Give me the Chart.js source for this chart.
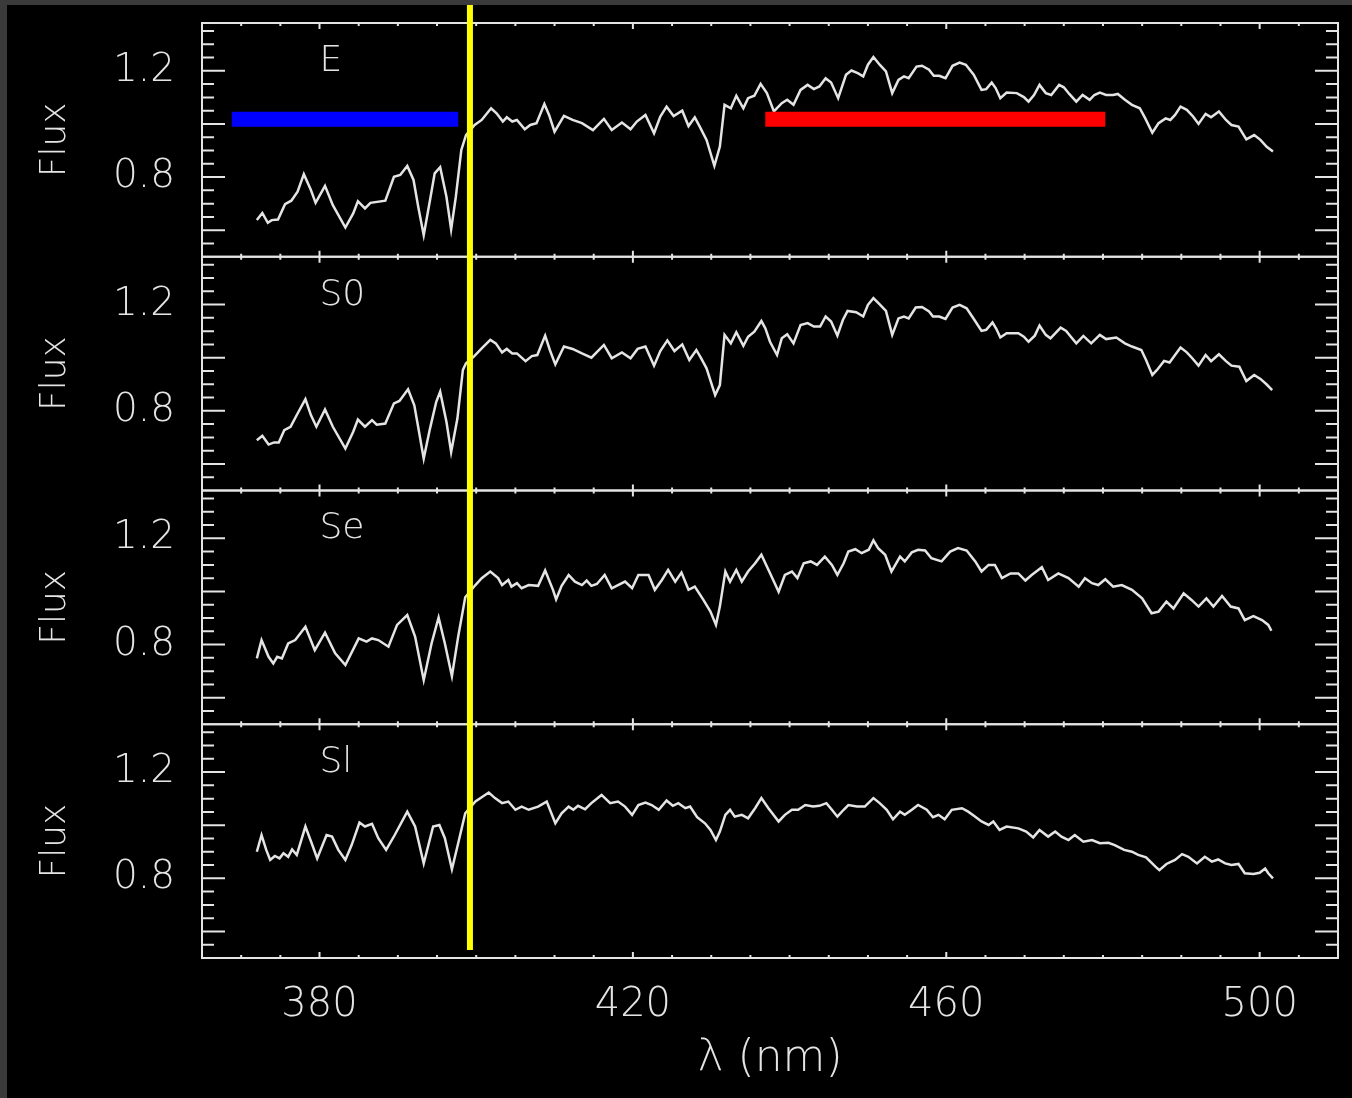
<!DOCTYPE html>
<html>
<head>
<meta charset="utf-8">
<title>Galaxy spectra</title>
<script src="https://cdn.jsdelivr.net/npm/chart.js@4.4.1/dist/chart.umd.min.js"></script>
<style>
  html, body { margin: 0; padding: 0; background: #3a3a3a; }
  body { width: 1352px; height: 1098px; overflow: hidden; position: relative; }
  #spectra { position: absolute; left: 7px; top: 5px; width: 1345px; height: 1093px; background: #000; }
</style>
</head>
<body>
<canvas id="spectra" width="1345" height="1093"></canvas>
<script>
// spectra, [wavelength nm, normalised flux]
const specE = [
  [372.0,0.638],[372.7,0.665],[373.4,0.628],[373.9,0.638],[374.7,0.640],[375.6,0.698],[376.4,0.711],[377.2,0.745],
  [378.0,0.811],[378.9,0.751],[379.5,0.703],[380.7,0.767],[381.7,0.694],[383.3,0.610],[384.3,0.663],[384.9,0.709],
  [385.8,0.682],[386.5,0.703],[388.4,0.711],[389.5,0.801],[390.3,0.808],[391.2,0.842],[392.0,0.789],[392.6,0.688],
  [393.3,0.581],[394.1,0.713],[394.7,0.814],[395.4,0.837],[396.2,0.726],[396.8,0.603],[397.4,0.726],[398.1,0.902],
  [398.7,0.958],[399.8,0.996],[400.7,1.015],[401.9,1.059],[402.6,1.040],[403.4,1.009],[403.9,1.025],[404.6,1.009],
  [405.2,1.015],[406.2,0.980],[406.9,0.996],[407.7,1.003],[408.7,1.075],[409.3,1.034],[410.0,0.971],[411.2,1.030],
  [412.3,1.015],[413.5,1.003],[414.9,0.977],[416.3,1.019],[417.3,0.977],[418.6,1.005],[419.7,0.980],[420.5,1.009],
  [421.6,1.034],[422.7,0.965],[423.5,1.028],[424.3,1.065],[425.2,1.030],[426.3,1.050],[427.1,0.992],[427.9,1.025],
  [428.5,0.992],[429.4,0.940],[430.4,0.842],[431.1,0.915],[431.7,1.072],[432.5,1.059],[433.2,1.106],[434.1,1.059],
  [434.7,1.097],[435.5,1.106],[436.3,1.151],[437.1,1.116],[438.0,1.047],[439.0,1.078],[439.7,1.091],[440.5,1.072],
  [441.4,1.128],[442.3,1.147],[443.1,1.131],[443.8,1.141],[444.6,1.172],[445.3,1.156],[446.2,1.097],[447.2,1.185],
  [447.9,1.201],[448.7,1.191],[449.4,1.179],[450.0,1.223],[450.7,1.252],[451.5,1.223],[452.3,1.198],[453.1,1.116],
  [453.9,1.166],[454.6,1.179],[455.2,1.172],[456.2,1.216],[456.9,1.219],[457.8,1.204],[458.4,1.181],[459.1,1.181],
  [459.9,1.172],[460.8,1.219],[461.7,1.231],[462.5,1.223],[463.5,1.185],[464.5,1.128],[465.1,1.131],[465.8,1.156],
  [466.3,1.135],[466.9,1.097],[467.7,1.118],[469.0,1.116],[469.9,1.101],[470.5,1.084],[471.2,1.109],[471.9,1.147],
  [472.7,1.116],[473.4,1.109],[474.4,1.147],[475.0,1.138],[475.7,1.113],[476.6,1.084],[477.4,1.109],[478.3,1.091],
  [478.9,1.109],[479.6,1.118],[480.4,1.109],[481.3,1.109],[481.9,1.113],[482.8,1.091],[483.7,1.072],[484.7,1.059],
  [485.4,1.021],[486.3,0.967],[487.1,1.003],[488.0,1.021],[488.6,1.015],[489.2,1.034],[489.9,1.065],[490.7,1.053],
  [491.5,1.028],[492.2,1.000],[493.1,1.038],[493.8,1.025],[494.8,1.047],[495.7,1.015],[496.4,0.996],[497.3,0.990],
  [498.3,0.942],[499.3,0.958],[500.1,0.940],[500.9,0.914],[501.7,0.896]
];
const specS0 = [
  [372.0,0.689],[372.7,0.706],[373.5,0.673],[374.2,0.681],[374.8,0.681],[375.5,0.727],[376.3,0.740],[377.2,0.790],
  [378.2,0.844],[378.9,0.784],[379.6,0.740],[380.7,0.805],[381.7,0.740],[383.3,0.658],[384.3,0.721],[384.9,0.767],
  [385.8,0.740],[386.7,0.765],[387.3,0.748],[388.4,0.752],[389.5,0.828],[390.2,0.837],[391.3,0.881],[392.1,0.821],
  [392.7,0.721],[393.3,0.620],[394.1,0.733],[394.9,0.834],[395.4,0.872],[396.2,0.759],[396.8,0.645],[397.6,0.771],
  [398.3,0.954],[398.7,0.979],[399.7,1.004],[400.7,1.035],[401.8,1.067],[402.5,1.054],[403.3,1.020],[403.9,1.033],
  [404.6,1.016],[405.2,1.016],[406.3,0.987],[407.1,1.006],[407.8,1.010],[408.8,1.083],[409.4,1.029],[410.1,0.975],
  [411.2,1.042],[412.3,1.033],[413.5,1.016],[414.7,1.000],[416.3,1.048],[417.3,0.998],[418.6,1.020],[419.7,0.998],
  [420.6,1.033],[421.6,1.042],[422.7,0.970],[423.5,1.025],[424.4,1.065],[425.3,1.025],[426.3,1.050],[427.2,0.991],
  [428.1,1.029],[428.7,0.998],[429.4,0.960],[430.5,0.859],[431.1,0.897],[431.7,1.086],[432.5,1.054],[433.2,1.096],
  [434.1,1.045],[434.7,1.079],[435.5,1.098],[436.4,1.138],[436.9,1.111],[437.5,1.060],[438.4,1.010],[439.0,1.073],
  [439.7,1.088],[440.5,1.054],[441.4,1.123],[442.3,1.130],[443.1,1.117],[443.9,1.117],[444.6,1.155],[445.3,1.136],
  [446.1,1.083],[446.8,1.142],[447.4,1.176],[448.5,1.171],[449.4,1.155],[450.0,1.199],[450.7,1.224],[451.5,1.201],
  [452.3,1.176],[453.1,1.086],[453.9,1.148],[454.6,1.155],[455.2,1.148],[456.1,1.189],[456.9,1.191],[457.8,1.174],
  [458.3,1.155],[459.1,1.155],[459.9,1.146],[460.8,1.189],[461.7,1.199],[462.6,1.186],[463.6,1.142],[464.5,1.101],
  [465.1,1.105],[465.9,1.133],[466.4,1.108],[466.9,1.076],[467.7,1.092],[469.2,1.092],[469.9,1.079],[470.5,1.060],
  [471.3,1.083],[471.9,1.121],[472.7,1.086],[473.3,1.073],[474.6,1.113],[475.3,1.101],[475.9,1.079],[476.6,1.054],
  [477.5,1.082],[478.5,1.054],[479.6,1.086],[480.4,1.070],[481.7,1.076],[482.8,1.054],[483.7,1.042],[484.9,1.029],
  [485.5,0.991],[486.3,0.935],[486.9,0.954],[487.8,0.988],[488.5,0.982],[489.2,1.010],[489.9,1.038],[490.7,1.020],
  [491.4,0.998],[492.2,0.970],[493.1,1.010],[493.8,0.987],[494.8,1.013],[495.7,0.987],[496.4,0.970],[497.4,0.966],
  [498.3,0.912],[499.3,0.935],[500.1,0.920],[500.9,0.899],[501.6,0.878]
];
const specSe = [
  [372.0,0.748],[372.6,0.817],[373.5,0.754],[374.1,0.729],[374.6,0.754],[375.2,0.748],[376.0,0.804],[376.9,0.817],
  [378.2,0.867],[379.4,0.779],[380.7,0.845],[382.0,0.767],[383.3,0.723],[385.0,0.823],[386.0,0.811],[386.7,0.823],
  [387.5,0.817],[388.8,0.792],[389.9,0.874],[391.2,0.911],[392.2,0.830],[393.3,0.666],[394.3,0.804],[395.2,0.902],
  [396.0,0.804],[396.9,0.681],[397.7,0.830],[398.6,0.978],[399.9,1.024],[400.7,1.050],[401.8,1.075],[402.8,1.050],
  [403.3,1.024],[404.1,1.043],[404.5,1.018],[405.2,1.031],[405.8,1.012],[406.7,1.024],[407.9,1.021],[408.8,1.079],
  [409.8,1.006],[410.2,0.970],[410.9,1.021],[411.8,1.062],[412.6,1.037],[413.5,1.024],[414.1,1.041],[414.7,1.021],
  [415.4,1.028],[416.4,1.062],[417.3,1.012],[418.1,1.024],[419.0,1.037],[419.9,1.012],[420.7,1.062],[422.0,1.062],
  [422.8,1.006],[423.7,1.043],[424.5,1.081],[425.4,1.037],[426.2,1.071],[427.1,1.006],[427.9,1.018],[429.0,0.968],
  [429.9,0.924],[430.6,0.874],[431.1,0.943],[431.8,1.075],[432.4,1.037],[433.2,1.081],[433.9,1.037],[434.7,1.075],
  [435.6,1.106],[436.4,1.138],[437.7,1.056],[438.6,0.999],[439.4,1.062],[440.3,1.075],[441.0,1.050],[441.8,1.106],
  [442.7,1.113],[443.5,1.100],[444.5,1.131],[445.4,1.100],[446.1,1.062],[446.9,1.106],[447.5,1.150],[448.4,1.159],
  [449.2,1.144],[450.1,1.157],[450.7,1.192],[451.3,1.163],[452.2,1.138],[453.0,1.075],[454.1,1.131],[454.7,1.113],
  [455.6,1.147],[456.4,1.157],[457.3,1.154],[458.1,1.125],[459.4,1.113],[460.5,1.150],[461.5,1.163],[462.6,1.154],
  [463.7,1.113],[464.5,1.075],[465.4,1.100],[466.2,1.100],[467.1,1.050],[468.2,1.068],[469.2,1.068],[470.1,1.041],
  [470.9,1.062],[472.2,1.091],[473.0,1.043],[474.3,1.068],[475.6,1.050],[476.9,1.018],[477.7,1.050],[478.6,1.031],
  [479.4,1.024],[480.3,1.046],[481.3,1.018],[482.4,1.024],[483.7,1.006],[485.0,0.974],[486.2,0.918],[487.1,0.924],
  [488.1,0.962],[489.0,0.936],[490.3,0.993],[491.3,0.968],[492.2,0.943],[493.2,0.974],[494.1,0.943],[495.2,0.983],
  [496.3,0.943],[497.3,0.936],[498.1,0.892],[499.2,0.907],[500.3,0.892],[501.1,0.874],[501.5,0.852]
];
const specSl = [
  [372.0,0.900],[372.6,0.963],[373.2,0.907],[373.7,0.869],[374.3,0.884],[374.9,0.875],[375.4,0.894],[376.0,0.881],
  [376.5,0.909],[377.1,0.888],[378.2,0.995],[379.0,0.932],[379.7,0.875],[380.9,0.963],[381.6,0.957],[382.4,0.907],
  [383.3,0.869],[384.1,0.925],[385.1,1.010],[385.8,0.995],[386.7,1.005],[387.5,0.951],[388.5,0.907],[389.6,0.963],
  [391.2,1.051],[392.2,0.995],[393.3,0.856],[394.5,0.995],[395.3,1.001],[396.0,0.951],[396.9,0.834],[397.7,0.932],
  [398.6,1.045],[399.9,1.089],[400.7,1.105],[401.6,1.123],[402.4,1.102],[403.3,1.083],[404.1,1.089],[405.0,1.058],
  [405.8,1.070],[406.7,1.058],[407.9,1.070],[409.0,1.089],[410.1,1.007],[410.9,1.045],[411.8,1.070],[412.4,1.058],
  [413.0,1.073],[413.9,1.060],[414.7,1.083],[416.0,1.114],[417.1,1.083],[418.1,1.089],[419.0,1.070],[419.9,1.039],
  [420.7,1.076],[421.6,1.085],[422.4,1.076],[423.3,1.058],[424.3,1.093],[425.1,1.073],[425.8,1.083],[426.7,1.064],
  [427.3,1.070],[428.2,1.030],[429.2,1.007],[429.9,0.982],[430.6,0.944],[431.1,0.976],[431.8,1.039],[432.4,1.058],
  [433.0,1.032],[433.9,1.039],[434.7,1.026],[435.6,1.064],[436.4,1.102],[437.3,1.064],[438.6,1.014],[439.4,1.039],
  [440.3,1.058],[441.1,1.058],[442.0,1.076],[443.0,1.070],[443.8,1.073],[444.7,1.083],[445.4,1.058],[446.1,1.032],
  [446.9,1.058],[447.5,1.076],[448.6,1.070],[449.6,1.070],[450.7,1.102],[451.5,1.083],[452.4,1.058],[453.2,1.022],
  [454.1,1.051],[454.7,1.039],[455.6,1.058],[456.4,1.076],[457.5,1.058],[458.3,1.030],[459.0,1.039],[459.8,1.022],
  [460.7,1.058],[462.0,1.064],[462.8,1.051],[463.7,1.032],[464.5,1.014],[465.4,1.001],[466.0,1.014],[466.8,0.982],
  [467.7,0.995],[469.2,0.988],[470.2,0.976],[471.1,0.954],[471.9,0.982],[473.0,0.957],[473.9,0.976],[474.7,0.957],
  [475.6,0.944],[476.4,0.963],[477.5,0.938],[478.6,0.944],[479.6,0.932],[480.7,0.934],[481.5,0.925],[482.7,0.907],
  [483.7,0.900],[484.5,0.888],[485.5,0.879],[486.7,0.844],[487.2,0.831],[488.1,0.854],[489.2,0.869],[490.1,0.891],
  [490.9,0.881],[492.0,0.856],[493.0,0.881],[493.9,0.863],[494.7,0.871],[495.6,0.856],[496.4,0.850],[497.3,0.854],
  [498.1,0.819],[499.2,0.816],[500.0,0.821],[500.7,0.837],[501.1,0.819],[501.7,0.800]
];

const panelNames = ['E', 'S0', 'Se', 'Sl'];
const panelAxes = ['yE', 'yS0', 'ySe', 'ySl'];
const panelSpectra = [specE, specS0, specSe, specSl];

const xRange = [365, 510];
const xTickLabels = [380, 420, 460, 500];
const yRange = [0.5, 1.38];
const yTickLabels = [0.8, 1.2];

// marker bands in the E panel and the break line
const blueBand = [368.8, 397.7];
const redBand = [436.9, 480.3];
const bandFlux = 1.018;
const breakWave = 399.2;
const breakSpan = [0.53, 4.2]; // on the Sl axis: from near its floor up past the top panel
const labelAt = [380, 1.2];

const INK = '#e4e4e4';
const FONT = 'DejaVu Sans';

// box, inward ticks on every side of each panel
const panelFrames = {
  id: 'panelFrames',
  beforeDatasetsDraw(chart) {
    const { ctx, chartArea: area, scales } = chart;
    const xs = scales.x;
    ctx.save();
    ctx.strokeStyle = INK;
    ctx.lineWidth = 2;
    panelAxes.forEach(id => {
      const ys = scales[id];
      ctx.strokeRect(area.left, ys.top, area.right - area.left, ys.bottom - ys.top);
      ctx.beginPath();
      for (let k = 11; k <= 27; k++) {
        const py = ys.getPixelForValue(k * 0.05);
        const len = k % 4 === 0 ? 23 : 12;
        ctx.moveTo(area.left, py); ctx.lineTo(area.left + len, py);
        ctx.moveTo(area.right, py); ctx.lineTo(area.right - len, py);
      }
      for (let v = 370; v < 510; v += 5) {
        const px = xs.getPixelForValue(v);
        const len = (v - 380) % 40 === 0 ? 6 : 3;
        ctx.moveTo(px, ys.top); ctx.lineTo(px, ys.top + len);
        ctx.moveTo(px, ys.bottom); ctx.lineTo(px, ys.bottom - len);
      }
      ctx.stroke();
    });
    ctx.restore();
  },
  afterDatasetsDraw(chart) {
    const { ctx, scales } = chart;
    ctx.save();
    ctx.fillStyle = INK;
    ctx.font = `200 36px "${FONT}"`;
    ctx.textAlign = 'left';
    ctx.textBaseline = 'alphabetic';
    panelNames.forEach((name, i) => {
      ctx.fillText(name, scales.x.getPixelForValue(labelAt[0]), scales[panelAxes[i]].getPixelForValue(labelAt[1]));
    });
    ctx.restore();
  }
};

function panelAxis(weight) {
  return {
    type: 'linear',
    position: 'left',
    stack: 'panels',
    stackWeight: 1,
    weight: weight,
    min: yRange[0],
    max: yRange[1],
    grid: { display: false },
    border: { display: false },
    afterBuildTicks: s => { s.ticks = yTickLabels.map(v => ({ value: v })); },
    // fixed gutter; labels sit well inside the panel so no edge padding is needed
    afterFit: s => { s.width = 195; s.paddingTop = 0; s.paddingBottom = 0; },
    ticks: { color: INK, padding: 19, font: { family: FONT, size: 39, weight: 200 } },
    title: { display: true, text: 'Flux', color: INK, padding: { top: 27, bottom: 0 }, font: { family: FONT, size: 36, weight: 200 } }
  };
}

function trace(data, axis) {
  return { data: data, yAxisID: axis, borderColor: INK, borderWidth: 2.5, pointRadius: 0, tension: 0, fill: false };
}

const datasets = [
  { data: [[breakWave, breakSpan[0]], [breakWave, breakSpan[1]]], yAxisID: 'ySl', borderColor: '#ffff00',
    borderWidth: 6, pointRadius: 0, clip: false },
  { data: [[blueBand[0], bandFlux], [blueBand[1], bandFlux]], yAxisID: 'yE', borderColor: '#0000ff',
    borderWidth: 15, borderCapStyle: 'butt', pointRadius: 0 },
  { data: [[redBand[0], bandFlux], [redBand[1], bandFlux]], yAxisID: 'yE', borderColor: '#ff0000',
    borderWidth: 15, borderCapStyle: 'butt', pointRadius: 0 }
];
panelSpectra.forEach((s, i) => datasets.push(trace(s, panelAxes[i])));

new Chart(document.getElementById('spectra'), {
  type: 'line',
  data: { datasets: datasets },
  options: {
    responsive: false,
    animation: false,
    events: [],
    layout: { padding: { top: 18, right: 14, left: 0, bottom: 0 } },
    plugins: { legend: { display: false }, tooltip: { enabled: false } },
    scales: {
      x: {
        type: 'linear',
        position: 'bottom',
        min: xRange[0],
        max: xRange[1],
        grid: { display: false },
        border: { display: false },
        afterBuildTicks: s => { s.ticks = xTickLabels.map(v => ({ value: v })); },
        afterFit: s => { s.height = 140; s.paddingLeft = 0; s.paddingRight = 0; },
        ticks: { color: INK, padding: 16, maxRotation: 0, font: { family: FONT, size: 40, weight: 200 } },
        title: { display: true, text: 'λ (nm)', color: INK, padding: { top: 0, bottom: 12 }, font: { family: FONT, size: 44, weight: 200 } }
      },
      ySl: panelAxis(1),
      ySe: panelAxis(2),
      yS0: panelAxis(3),
      yE: panelAxis(4)
    }
  },
  plugins: [panelFrames]
});
</script>
</body>
</html>
